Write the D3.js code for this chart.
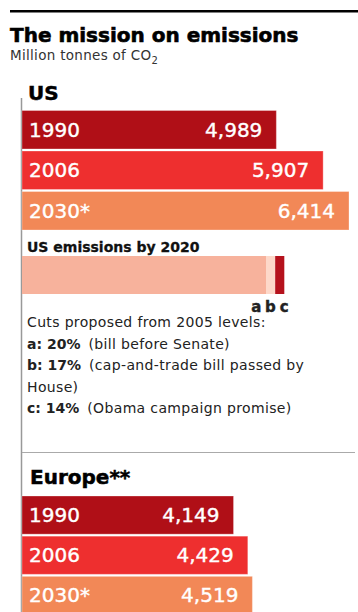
<!DOCTYPE html>
<html>
<head>
<meta charset="utf-8">
<script src="https://cdn.jsdelivr.net/npm/d3@7"></script>
<style>
  body { margin: 0; background: #fff; }
  svg { display: block; font-family: "DejaVu Sans", sans-serif; }
</style>
</head>
<body>
<svg id="chart" width="358" height="612"></svg>
<script>
// data
var years = ["1990", "2006", "2030*"];
var usValues = [4989, 5907, 6414];
var europeValues = [4149, 4429, 4519];

// US 2020 targets (cuts from 2005 levels)
var cutKeys = ["a", "b", "c"];
var cutPct = ["20%", "17%", "14%"];
var cutTargets = [4786, 4966, 5145];
var cutNotes = [["(bill before Senate)"], ["(cap-and-trade bill passed by", "House)"], ["(Obama campaign promise)"]];

var barColors = ["#b00f17", "#ee2f2f", "#f28857"];
var cutColors = ["#f7b29c", "#fdd8c9", "#b5121c"];

const W = 358, H = 612;
const X0 = 22; // left edge of all bars

var svg = d3.select("#chart");

var x = d3.scaleLinear()
  .domain([0, d3.max(usValues)])
  .range([X0, 349]);

// top rule + title
svg.append("rect").attr("x", 10).attr("y", 10).attr("width", W - 10).attr("height", 2.5).attr("fill", "#000");
svg.append("text").attr("x", 10).attr("y", 42)
  .attr("font-size", 20).attr("font-weight", "bold").attr("fill", "#000")
  .attr("stroke", "#000").attr("stroke-width", 0.6)
  .text("The mission on emissions");
var sub = svg.append("text").attr("x", 10).attr("y", 59.5)
  .attr("font-size", 13.5).attr("fill", "#333").attr("letter-spacing", 0.3)
  .text("Million tonnes of CO");
sub.append("tspan").attr("font-size", 10).attr("dy", 4).text("2");

// grey guide lines
svg.append("line").attr("x1", 21.5).attr("x2", 21.5).attr("y1", 98).attr("y2", H)
  .attr("stroke", "#999").attr("stroke-width", 1.5);
svg.append("line").attr("x1", 22).attr("x2", 355).attr("y1", 452.5).attr("y2", 452.5)
  .attr("stroke", "#aaa").attr("stroke-width", 1);

function drawGroup(title, titleY, values, y0, y1) {
  svg.append("text").attr("x", title === "US" ? 28 : 30).attr("y", titleY)
    .attr("font-size", 20).attr("font-weight", "bold").attr("fill", "#000")
    .attr("stroke", "#000").attr("stroke-width", 0.5)
    .text(title);

  var y = d3.scaleBand().domain(years).range([y0, y1]).paddingInner(0.05);

  var g = svg.append("g");
  var rows = g.selectAll("g").data(values).join("g");

  rows.append("rect")
    .attr("x", X0)
    .attr("y", function (d, i) { return y(years[i]); })
    .attr("width", function (d) { return x(d) - X0; })
    .attr("height", y.bandwidth())
    .attr("fill", function (d, i) { return barColors[i]; })
    .attr("stroke", "rgba(255,255,255,0.3)")
    .attr("stroke-width", 1);

  // slightly heavier than regular, like the original's medium weight
  rows.append("text")
    .attr("x", X0 + 7)
    .attr("y", function (d, i) { return y(years[i]) + y.bandwidth() / 2 + 7; })
    .attr("font-size", 20).attr("fill", "#fff")
    .attr("stroke", "#fff").attr("stroke-width", 0.4)
    .text(function (d, i) { return years[i]; });

  rows.append("text")
    .attr("x", function (d) { return x(d) - 14; })
    .attr("y", function (d, i) { return y(years[i]) + y.bandwidth() / 2 + 7; })
    .attr("text-anchor", "end")
    .attr("font-size", 20).attr("fill", "#fff")
    .attr("stroke", "#fff").attr("stroke-width", 0.4)
    .text(function (d) { return d3.format(",")(d); });
}

drawGroup("US", 100, usValues, 110.5, 230);

// US emissions by 2020
svg.append("text").attr("x", 27).attr("y", 251.5)
  .attr("font-size", 14).attr("font-weight", "bold").attr("fill", "#111")
  .attr("stroke", "#111").attr("stroke-width", 0.3)
  .text("US emissions by 2020");

var segs = cutTargets.map(function (v, i) {
  return { start: i === 0 ? 0 : cutTargets[i - 1], end: v, color: cutColors[i] };
});
svg.append("g").selectAll("rect").data(segs).join("rect")
  .attr("x", function (d) { return x(d.start); })
  .attr("y", 256)
  .attr("width", function (d) { return x(d.end) - x(d.start); })
  .attr("height", 38)
  .attr("fill", function (d) { return d.color; });

svg.append("g").selectAll("text").data(cutKeys).join("text")
  .attr("x", function (d, i) { return x(cutTargets[2]) - (2 - i) * 14; })
  .attr("y", 311.5)
  .attr("text-anchor", "middle")
  .attr("font-size", 15).attr("font-weight", "bold").attr("fill", "#222")
  .attr("stroke", "#222").attr("stroke-width", 0.4)
  .text(function (d) { return d; });

// notes
var noteY = 327;
const LINE = 21.5;
var notes = svg.append("g").attr("font-size", 14).attr("fill", "#222");
notes.append("text").attr("x", 27).attr("y", noteY).attr("letter-spacing", 0.35)
  .text("Cuts proposed from 2005 levels:");
cutKeys.forEach(function (k, i) {
  noteY += LINE;
  var t = notes.append("text").attr("x", 27).attr("y", noteY);
  t.append("tspan").attr("font-weight", "bold").text(k + ": " + cutPct[i]);
  t.append("tspan").attr("letter-spacing", 0.35).attr("dx", 8).text(cutNotes[i][0]);
  for (var j = 1; j < cutNotes[i].length; j++) {
    noteY += LINE;
    notes.append("text").attr("x", 27).attr("y", noteY).attr("letter-spacing", 0.35)
      .text(cutNotes[i][j]);
  }
});

drawGroup("Europe**", 484, europeValues, 496, 614.5);
</script>
</body>
</html>
